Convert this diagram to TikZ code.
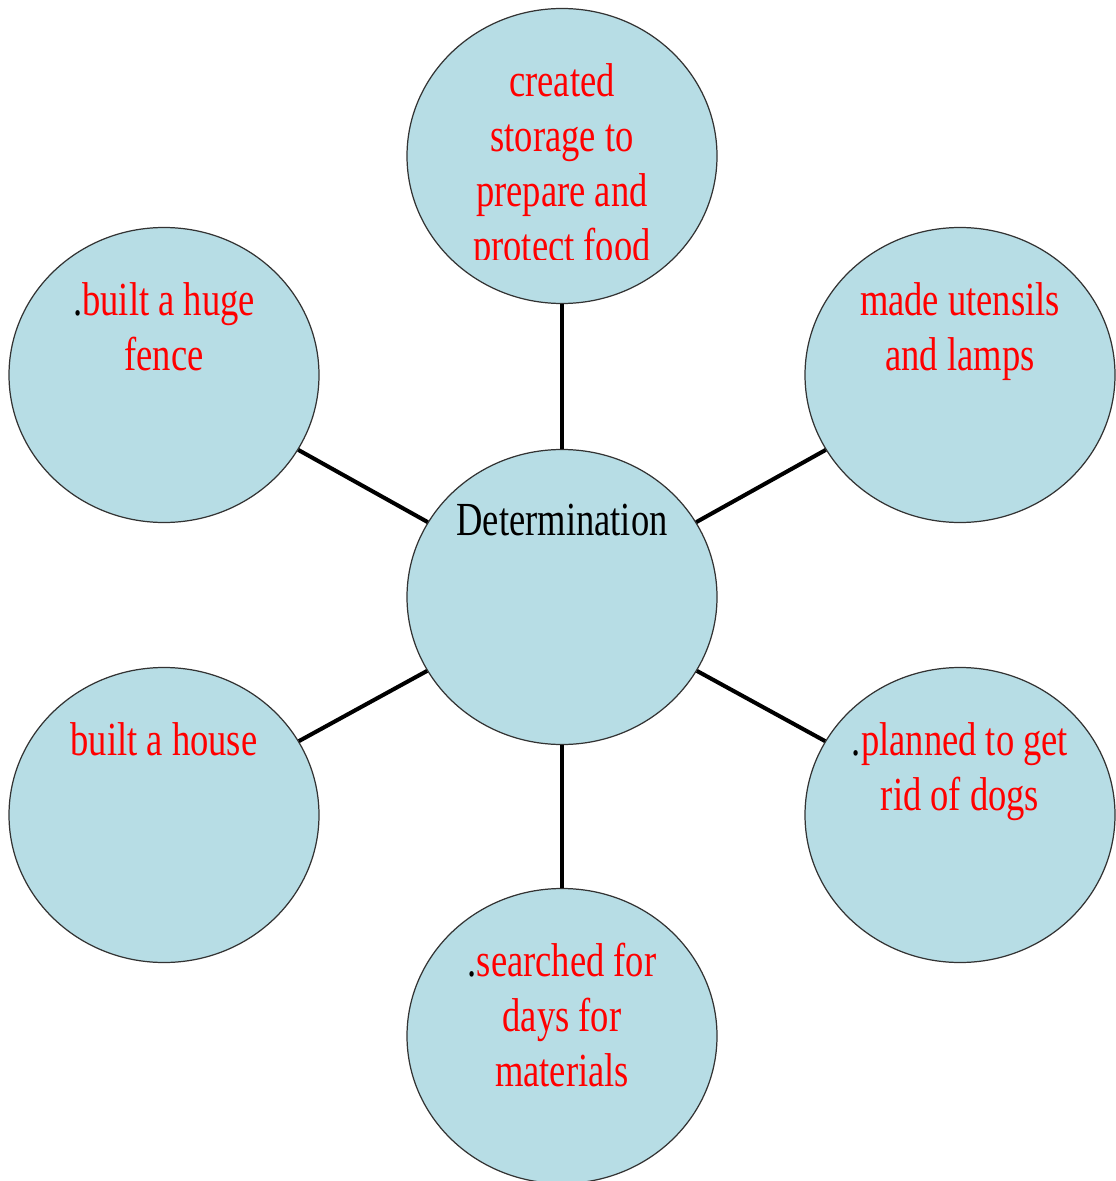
\documentclass[tikz,border=0pt]{standalone}
\usepackage{fontspec}
\setmainfont{Liberation Serif}
\newfontfamily\narrowserif[FakeStretch=0.77]{Liberation Serif}
\usetikzlibrary{positioning,shapes.geometric}
\definecolor{bubblefill}{RGB}{183,221,229}
\begin{document}
\begin{tikzpicture}[x=0.2mm, y=-0.2mm,
    bubble/.style={ellipse, draw=black!80, line width=0.7pt, fill=bubblefill,
                   minimum width=6.2cm, minimum height=5.9cm, inner sep=0pt},
    txt/.style={text=red, align=center, inner sep=0pt,
                font=\narrowserif\fontsize{27}{31.3}\selectfont},
    spoke/.style={line width=2.3pt}]

    \useasboundingbox (0,0) rectangle (1115,1181);

    % Circles
    \node[bubble] (c)  at (562,597)  {};
    \node[bubble] (tp) at (562,156)  {};
    \node[bubble] (tl) at (164,375)  {};
    \node[bubble] (tr) at (960,375)  {};
    \node[bubble] (bl) at (164,815)  {};
    \node[bubble] (br) at (960,815)  {};
    \node[bubble] (bt) at (562,1036) {};

    % Spokes from the centre
    \draw[spoke] (c) -- (tp);
    \draw[spoke] (c) -- (tl);
    \draw[spoke] (c) -- (tr);
    \draw[spoke] (c) -- (bl);
    \draw[spoke] (c) -- (br);
    \draw[spoke] (c) -- (bt);

    % Texts
    \node[txt, text=black, below=1.1cm of c.north] (ct) {Determination};
    \begin{scope}
        \clip ([xshift=-3.1cm]tp.north) rectangle ([xshift=3.1cm, yshift=-5.03cm]tp.north);
        \node[txt, below=1.1cm of tp.north] (tpt) {created\\storage to\\prepare and\\protect food};
    \end{scope}
    \node[txt, below=1.1cm of tl.north] (tlt) {{\color{black}.}built a huge\\fence};
    \node[txt, below=1.1cm of tr.north] (trt) {made utensils\\and lamps};
    \node[txt, below=1.1cm of bl.north] (blt) {built a house};
    \node[txt, below=1.1cm of br.north] (brt) {{\color{black}.}planned to get\\rid of dogs};
    \node[txt, below=1.1cm of bt.north] (btt) {{\color{black}.}searched for\\days for\\materials};

\end{tikzpicture}
\end{document}
